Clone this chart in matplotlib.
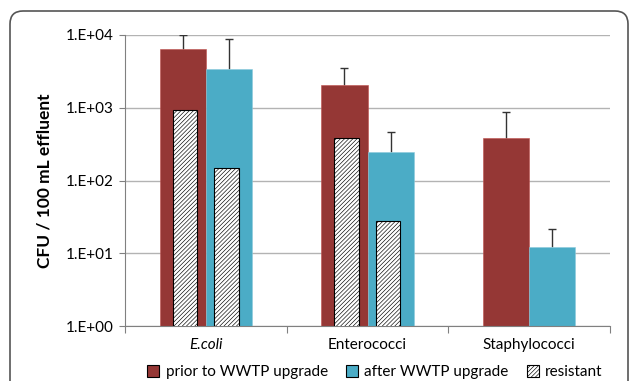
import matplotlib
matplotlib.use("Agg")
import matplotlib.pyplot as plt
import numpy as np
from matplotlib.patches import FancyBboxPatch, Patch

plt.rcParams['font.family'] = ['Lato', 'DejaVu Sans']
plt.rcParams['hatch.linewidth'] = 0.45
plt.rcParams['hatch.color'] = "#333333"

categories = ["E.coli", "Enterococci", "Staphylococci"]
prior = [6400, 2050, 380]
prior_err = [3600, 1500, 500]
after = [3400, 245, 12.1]
after_err = [5500, 225, 9.2]
res_prior = [940, 390, np.nan]
res_after = [147, 28, np.nan]
yticks = [1, 10, 100, 1000, 10000]
ytick_labels = ["1.E+00", "1.E+01", "1.E+02", "1.E+03", "1.E+04"]

red = "#953735"
blue = "#4BACC6"

fig = plt.figure(figsize=(6.3, 3.81), dpi=100)
ax = fig.add_axes([125/630, 1-326/381, (610-125)/630, (326-35)/381])

x = np.arange(len(categories))
w = 0.285
for xs, vals, errs, col, ec in [(x - w/2, prior, prior_err, red, "#C0504D"),
                                (x + w/2, after, after_err, blue, "#8CCADB")]:
    ax.bar(xs, vals, w, color=col, edgecolor=ec, linewidth=0.4, zorder=2)
    tops = np.array(vals) + np.array(errs)
    ax.vlines(xs, vals, tops, color="#333333", linewidth=1, zorder=1.5)
    ax.plot(xs, tops, linestyle="none", marker="_", markersize=6, markeredgewidth=1,
            color="#333333", zorder=1.5)
hw = 0.152
ax.bar(x - 0.13, res_prior, hw, color="white", edgecolor="black", hatch="////////", linewidth=0.8, zorder=3)
ax.bar(x + 0.127, res_after, hw, color="white", edgecolor="black", hatch="////////", linewidth=0.8, zorder=3)

ax.set_yscale("log")
ax.set_ylim(1, 10000)
ax.set_xlim(-0.5, 2.5)
ax.set_yticks(yticks)
ax.set_yticklabels(ytick_labels, fontsize=11)
ax.yaxis.set_minor_locator(matplotlib.ticker.NullLocator())
ax.yaxis.grid(True, color="#B3B3B3", linewidth=1, zorder=0)
ax.set_axisbelow(True)

ax.set_xticks([-0.5, 0.5, 1.5, 2.5])
ax.set_xticklabels([])
ax.tick_params(axis="x", length=5, color="#808080", direction="out")
ax.tick_params(axis="y", length=4, color="#808080", direction="out", pad=4)
for i, c in enumerate(categories):
    ax.text(i, -0.04, c, transform=ax.get_xaxis_transform(), ha="center", va="top",
            fontsize=11, style="italic" if i == 0 else "normal")

for s in ["top", "right"]:
    ax.spines[s].set_visible(False)
for s in ["left", "bottom"]:
    ax.spines[s].set_color("#808080")

ax.set_ylabel("CFU / 100 mL effluent", fontsize=12.5, fontweight="bold", labelpad=10)

handles = [Patch(facecolor=red, edgecolor="black", linewidth=0.8),
           Patch(facecolor=blue, edgecolor="black", linewidth=0.8),
           Patch(facecolor="white", edgecolor="black", hatch="////////", linewidth=0.8)]
fig.legend(handles, ["prior to WWTP upgrade", "after WWTP upgrade", "resistant"],
           loc="center", bbox_to_anchor=(375/630, 1-372/381), ncol=3, frameon=False,
           fontsize=11, handlelength=0.8, handleheight=0.8, handletextpad=0.4, columnspacing=1.2)

frame = FancyBboxPatch((0.10, -0.3), 6.18, 3.70 + 0.3, boxstyle="round,pad=0,rounding_size=0.13",
                       transform=fig.dpi_scale_trans, facecolor="none", edgecolor="#555555",
                       linewidth=1.2, clip_on=False)
fig.patches.append(frame)

fig.savefig("out.png", dpi=100)
